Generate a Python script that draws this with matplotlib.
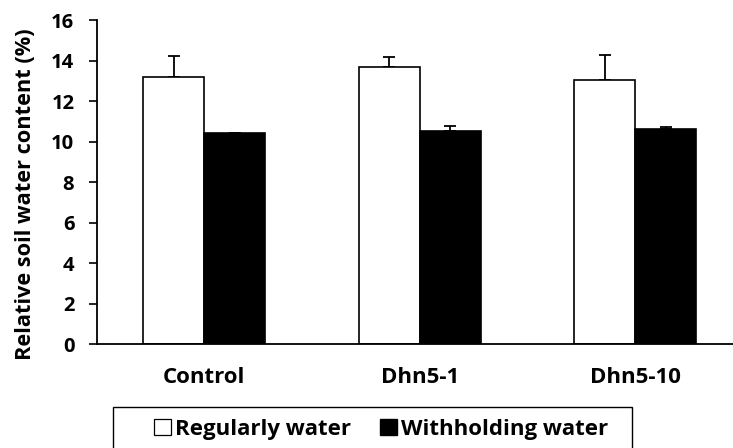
import matplotlib
matplotlib.use("Agg")
import matplotlib.pyplot as plt
from matplotlib.patches import Rectangle
import numpy as np

categories = ["Control", "Dhn5-1", "Dhn5-10"]
regular = [13.19, 13.66, 13.04]
regular_err = [1.05, 0.51, 1.23]
withhold = [10.43, 10.53, 10.63]
withhold_err = [0.0, 0.23, 0.07]
series_names = ["Regularly water", "Withholding water"]
y_ticks = [0, 2, 4, 6, 8, 10, 12, 14, 16]

plt.rcParams['font.family'] = ['Open Sans', 'DejaVu Sans']
plt.rcParams['font.weight'] = 'bold'

W, H = 733, 448
fig = plt.figure(figsize=(W / 100, H / 100), dpi=100)
left, right, top, bottom = 96.5, 743.0, 20.0, 344.3
ax = fig.add_axes([left / W, 1 - bottom / H, (right - left) / W, (bottom - top) / H])

x = np.arange(len(categories))
bw = 0.283
ax.bar(x - bw / 2, regular, bw, color="white", edgecolor="black", linewidth=1.2, zorder=2)
ax.bar(x + bw / 2, withhold, bw, color="black", edgecolor="black", linewidth=1.2, zorder=2)
ax.errorbar(x - bw / 2, regular, yerr=[np.zeros(3), regular_err], fmt="none",
            ecolor="black", elinewidth=1.3, capsize=4, capthick=1.3, zorder=1)
ax.errorbar(x + bw / 2, withhold, yerr=[np.zeros(3), withhold_err], fmt="none",
            ecolor="black", elinewidth=1.3, capsize=4, capthick=1.3, zorder=1)

ax.set_xlim(-0.5, 2.5)
ax.set_ylim(0, 16)
ax.set_yticks(y_ticks)
ax.set_yticklabels([str(t) for t in y_ticks], fontsize=14.5, fontweight="bold")
ax.set_xticks(x)
ax.set_xticklabels(categories, fontsize=16, fontweight="bold")
ax.tick_params(axis="x", length=0, pad=16)
ax.tick_params(axis="y", length=6, width=1.2, direction="out", pad=10)
for s in ["top", "right"]:
    ax.spines[s].set_visible(False)
for s in ["left", "bottom"]:
    ax.spines[s].set_linewidth(1.3)
ax.set_ylabel("Relative soil water content (%)", fontsize=15.7, fontweight="bold")
ax.yaxis.set_label_coords((36 - left) / (right - left), (bottom - 194) / (bottom - top))

handles = [Rectangle((0, 0), 1, 1, facecolor="white", edgecolor="black", linewidth=0.9),
           Rectangle((0, 0), 1, 1, facecolor="black", edgecolor="black")]
fig.legend(handles, series_names, loc="center", bbox_to_anchor=(381 / W, 1 - 429 / H),
           ncol=2, frameon=False, handlelength=0.75, handleheight=0.75,
           handletextpad=0.2, columnspacing=1.3, prop={"weight": "bold", "size": 16})
fig.patches.append(Rectangle((113 / W, 1 - 470 / H), (632 - 113) / W, (470 - 407) / H,
                             transform=fig.transFigure, facecolor="none",
                             edgecolor="black", linewidth=1.0))

fig.savefig("out.png", dpi=100)
